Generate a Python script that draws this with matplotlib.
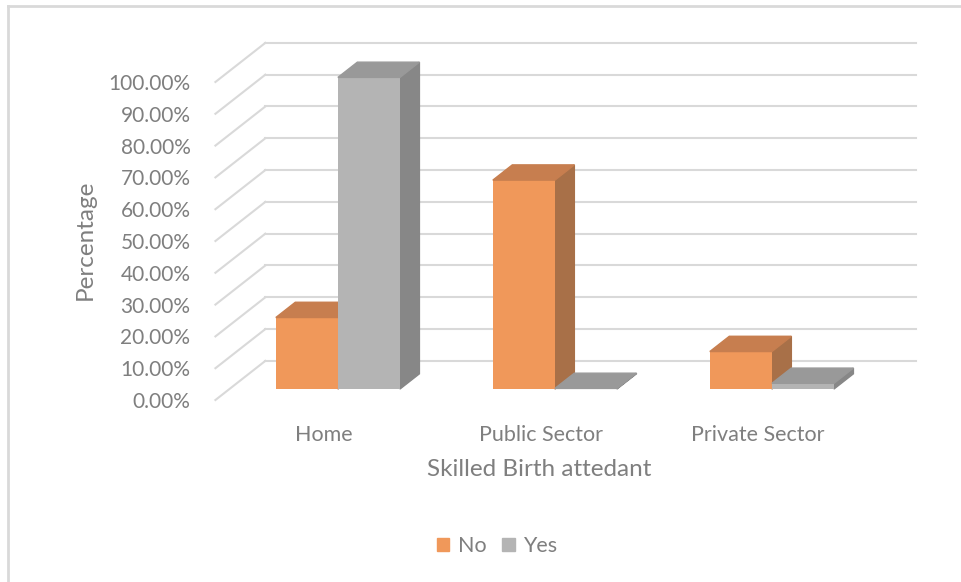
import numpy as np
import matplotlib
matplotlib.use("Agg")
import matplotlib.pyplot as plt
from matplotlib.patches import Polygon, Patch
from matplotlib.lines import Line2D

categories = ["Home", "Public Sector", "Private Sector"]
no_values = [22.5, 65.7, 11.8]
yes_values = [98.0, 0.2, 1.8]
tick_values = np.arange(0, 101, 10)
tick_labels = ["%.2f%%" % t for t in tick_values]

plt.rcParams['font.family'] = ['Lato', 'DejaVu Sans']
text_col = "#7f7f7f"
grid_col = "#d9d9d9"

# fake 3d (oblique) settings, in data units
depth_x, depth_y = 0.230, 12.3          # full depth of the box
bar_front, bar_back = 0.28, 0.67        # depth fraction of the bars
bar_w = 0.286

fig = plt.figure(figsize=[9.61, 5.82], dpi=100)
W, H = 961, 582
ax = fig.add_axes([205 / W, (H - 410) / H, 725 / W, 380 / H])
ax.set_xlim(-0.548, 2.793)
ax.set_ylim(-3.14, 116.35)
for s in ax.spines.values():
    s.set_visible(False)

# walls gridlines
for t in tick_values:
    ax.plot([-0.5, -0.5 + depth_x], [t, t + depth_y], color=grid_col, lw=1.5, zorder=1)
    ax.plot([-0.5 + depth_x, 2.5 + depth_x], [t + depth_y, t + depth_y], color=grid_col, lw=1.5, zorder=1)

x = np.arange(len(categories))
ox, oy = bar_front * depth_x, bar_front * depth_y
dx, dy = (bar_back - bar_front) * depth_x, (bar_back - bar_front) * depth_y

series = [
    (no_values, -bar_w / 2, "#f0985a", "#c77e4f", "#a87048", "No"),
    (yes_values, bar_w / 2, "#b4b4b4", "#999999", "#878787", "Yes"),
]
z = 3
for vals, shift, front, top, side, lab in series:
    bars = ax.bar(x + ox + shift, vals, bar_w, bottom=oy, color=front, zorder=z + 1, label=lab)
    for b in bars:
        x0, y0 = b.get_x(), b.get_y()
        x1, y1 = x0 + b.get_width(), y0 + b.get_height()
        ax.add_patch(Polygon([(x0, y1), (x1, y1), (x1 + dx, y1 + dy), (x0 + dx, y1 + dy)],
                             closed=True, color=top, zorder=z + 1))
        ax.add_patch(Polygon([(x1, y0), (x1 + dx, y0 + dy), (x1 + dx, y1 + dy), (x1, y1)],
                             closed=True, color=side, zorder=z))
    z += 2

ax.set_yticks(tick_values, tick_labels)
ax.set_xticks(x, categories)
ax.tick_params(axis='y', length=0, pad=10.5, labelsize=15, labelcolor=text_col)
ax.tick_params(axis='x', length=0, pad=11, labelsize=15.5, labelcolor=text_col)
fig.text(539 / W, 1 - 470 / H, "Skilled Birth attedant", fontsize=17.5, color=text_col,
         ha='center', va='center')
fig.text(85 / W, 1 - 240 / H, "Percentage", rotation=90, fontsize=17.5, color=text_col,
         ha='center', va='center')

handles = [Patch(color="#f0985a", label="No"), Patch(color="#b4b4b4", label="Yes")]
fig.legend(handles=handles, loc='center', bbox_to_anchor=(497 / W, 1 - 546 / H), ncol=2,
           frameon=False, fontsize=15.5, labelcolor=text_col, handlelength=0.6,
           handleheight=0.6, handletextpad=0.4, columnspacing=0.7)

# chart border
fig.add_artist(Line2D([8 / W, 8 / W], [0, 1 - 6 / H], color=grid_col, lw=2))
fig.add_artist(Line2D([8 / W, 1], [1 - 6 / H, 1 - 6 / H], color=grid_col, lw=2))

plt.savefig("out.png", dpi=100)
plt.close()
